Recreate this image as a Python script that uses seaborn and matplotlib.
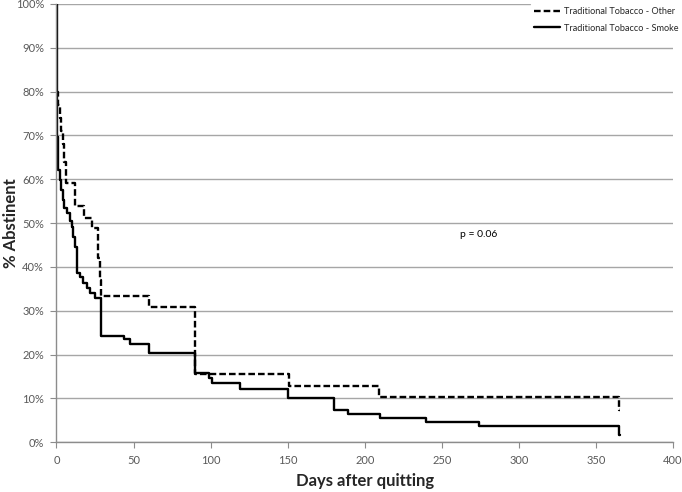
import numpy as np
import pandas as pd
import matplotlib
matplotlib.use("Agg")
import matplotlib.pyplot as plt
from matplotlib.lines import Line2D
import seaborn as sns

# ── Data ───────────────────────────────────────────────────────────────────
other_days = [0, 1, 2, 3, 4, 5, 6, 12, 18, 23, 27, 28, 29, 60, 90, 151, 209, 365, 365.6]
other_pct = [80, 77, 74, 71, 68, 64, 59.2, 54.0, 51.2, 48.8, 42, 37, 33.3, 30.8,
             15.5, 12.8, 10.3, 7.4, 7.4]

smoke_days = [0, 0.3, 1, 2, 3, 4, 5, 7, 9, 10, 11, 12, 13, 15, 17, 20, 22, 25, 29,
              44, 48, 60, 90, 99, 101, 119, 150, 180, 189, 210, 240, 274, 365, 365.6]
smoke_pct = [100, 69.7, 62.1, 59.8, 57.5, 55.3, 53.5, 52.4, 50.5, 49.2, 46.9, 44.6,
             38.6, 37.6, 36.4, 35.1, 34.0, 32.9, 24.3, 23.5, 22.4, 20.3, 15.7, 14.6,
             13.5, 12.1, 10.2, 7.4, 6.5, 5.6, 4.6, 3.7, 1.7, 1.7]

LABEL_OTHER = "Traditional Tobacco - Other"
LABEL_SMOKE = "Traditional Tobacco - Smoke"

df = pd.concat([
    pd.DataFrame({"days": other_days, "pct": other_pct, "group": LABEL_OTHER}),
    pd.DataFrame({"days": smoke_days, "pct": smoke_pct, "group": LABEL_SMOKE}),
])

# ── Style ──────────────────────────────────────────────────────────────────
sns.set_theme(style="white")
plt.rcParams["font.family"] = ["Lato", "DejaVu Sans"]
GRID = "#a6a6a6"
AXIS = "#8c8c8c"
TXT = "#595959"
DASH = (2.8, 1.3)
LW = 1.7

fig = plt.figure(figsize=(6.82, 4.92), dpi=100)
ax = fig.add_axes([0.0828, 0.101, 0.904, 0.8909])

sns.lineplot(data=df, x="days", y="pct", hue="group", style="group",
             palette={LABEL_OTHER: "black", LABEL_SMOKE: "black"},
             dashes={LABEL_OTHER: DASH, LABEL_SMOKE: ""},
             drawstyle="steps-post", estimator=None, linewidth=LW,
             legend=False, ax=ax)

ax.set_xlim(0, 400)
ax.set_ylim(0, 100)
ax.set_xticks(range(0, 401, 50))
ax.set_yticks(range(0, 101, 10))
ax.set_yticklabels([f"{v}%" for v in range(0, 101, 10)])
ax.yaxis.grid(True, color=GRID, linewidth=1.0)
ax.set_axisbelow(True)
for s in ["top", "right"]:
    ax.spines[s].set_visible(False)
for s in ["left", "bottom"]:
    ax.spines[s].set_color(AXIS)
    ax.spines[s].set_linewidth(1.0)
ax.tick_params(axis="both", which="major", direction="out", length=4, width=0.8,
               color=AXIS, labelsize=8, labelcolor=TXT, bottom=True, left=True)
ax.tick_params(axis="x", pad=5)
ax.tick_params(axis="y", pad=5)

ax.set_xlabel("Days after quitting", fontsize=12, fontweight="bold", va="center")
ax.set_ylabel("% Abstinent", fontsize=12, fontweight="bold", va="center")
ax.xaxis.set_label_coords(0.5, -0.088)
ax.yaxis.set_label_coords(-0.074, 0.5)

ax.text(262, 47.5, "p = 0.06", fontsize=7.5, color="black", va="center")

handles = [Line2D([], [], color="black", lw=LW, linestyle=(0, DASH)),
           Line2D([], [], color="black", lw=LW)]
leg = ax.legend(handles, [LABEL_OTHER, LABEL_SMOKE], loc="upper right",
                bbox_to_anchor=(681 / 682, 1 - 4 / 492), bbox_transform=fig.transFigure,
                fontsize=6.6, frameon=True,
                facecolor="white", edgecolor="white", framealpha=1,
                handlelength=2.9, handletextpad=0.4, labelspacing=0.85,
                borderpad=0.3, borderaxespad=0, fancybox=False)

fig.savefig("out.png", dpi=100)
